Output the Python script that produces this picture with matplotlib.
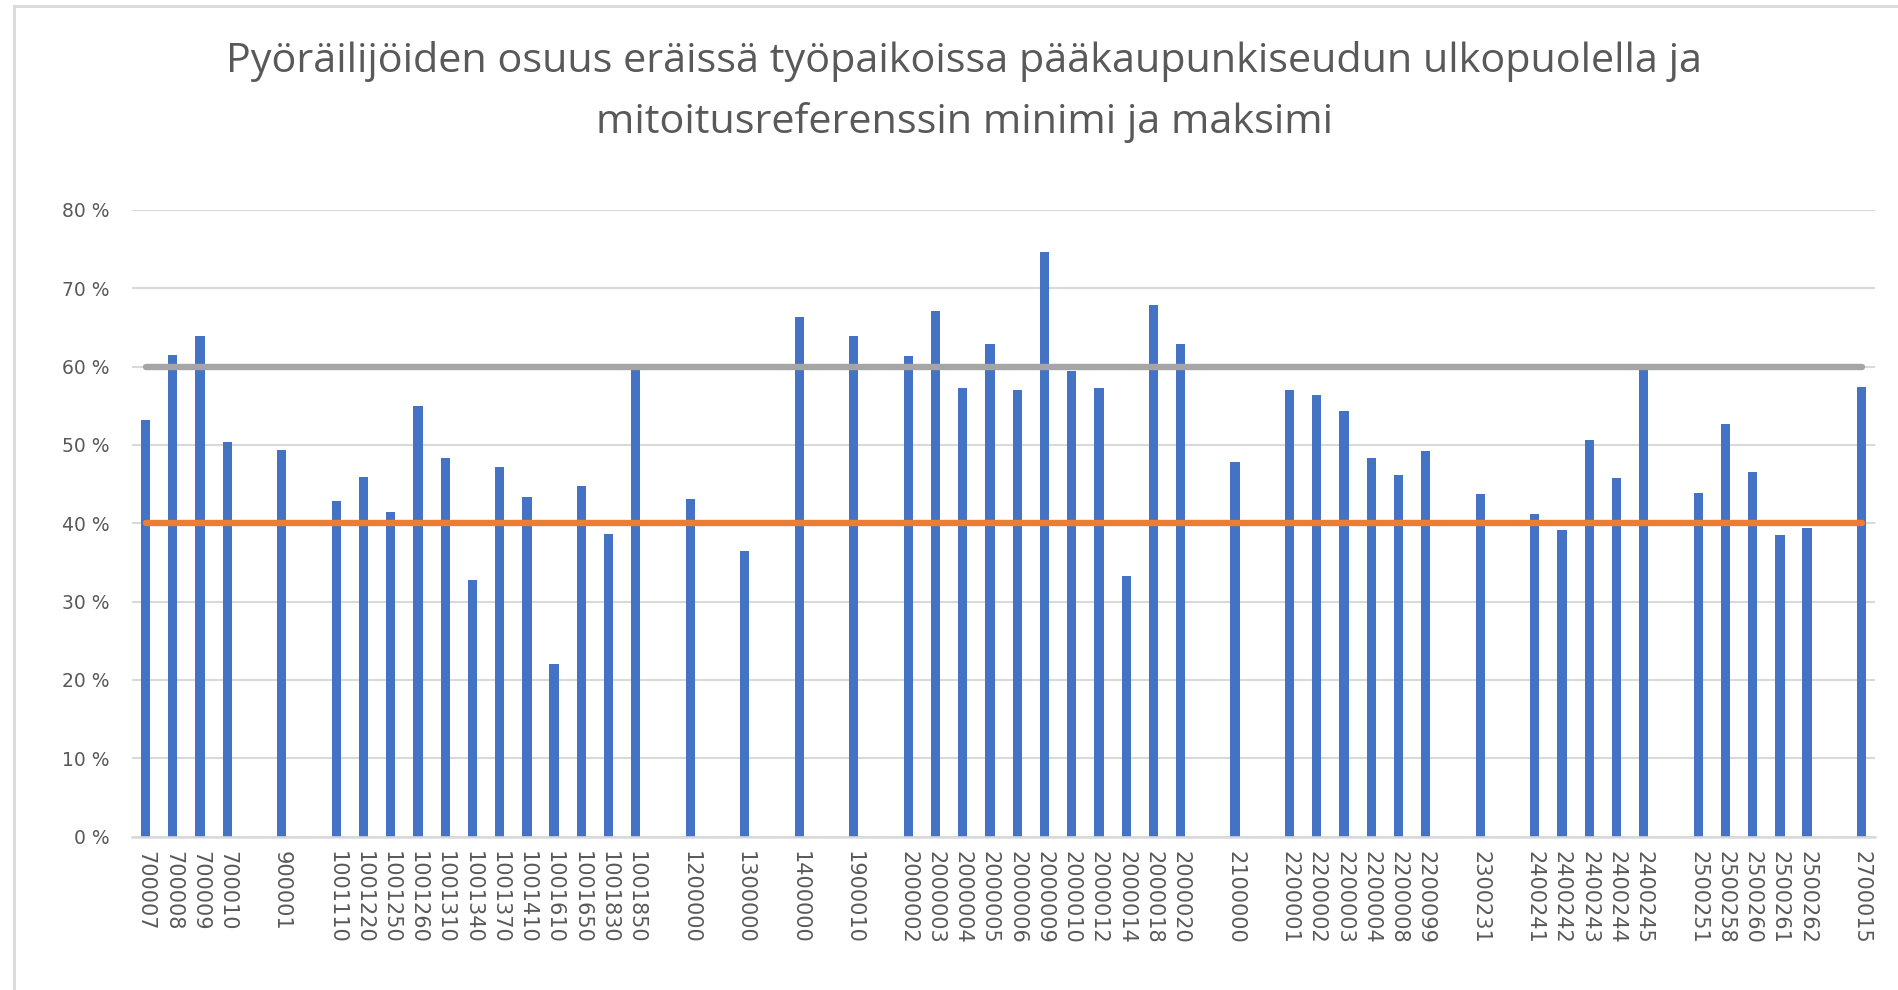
import matplotlib
matplotlib.use("Agg")
import matplotlib.pyplot as plt
from matplotlib.lines import Line2D

# categories (empty strings are the blank slots on the axis)
labels = ["700007", "700008", "700009", "700010", "", "900001", "",
          "1001110", "1001220", "1001250", "1001260", "1001310", "1001340",
          "1001370", "1001410", "1001610", "1001650", "1001830", "1001850", "",
          "1200000", "", "1300000", "", "1400000", "", "1900010", "",
          "2000002", "2000003", "2000004", "2000005", "2000006", "2000009",
          "2000010", "2000012", "2000014", "2000018", "2000020", "",
          "2100000", "",
          "2200001", "2200002", "2200003", "2200004", "2200008", "2200099", "",
          "2300231", "",
          "2400241", "2400242", "2400243", "2400244", "2400245", "",
          "2500251", "2500258", "2500260", "2500261", "2500262", "",
          "2700015"]

# share of cyclists (None = no bar)
share = [0.532, 0.615, 0.639, 0.504, None, 0.494, None,
         0.429, 0.459, 0.414, 0.550, 0.483, 0.328,
         0.472, 0.434, 0.221, 0.447, 0.386, 0.599, None,
         0.431, None, 0.365, None, 0.664, None, 0.639, None,
         0.613, 0.671, 0.573, 0.629, 0.570, 0.746,
         0.594, 0.573, 0.333, 0.679, 0.629, None,
         0.478, None,
         0.570, 0.564, 0.543, 0.483, 0.462, 0.492, None,
         0.438, None,
         0.412, 0.392, 0.506, 0.458, 0.596, None,
         0.439, 0.527, 0.465, 0.385, 0.394, None,
         0.574]

ref_max = 0.60
ref_min = 0.40

yticks = [0, 0.1, 0.2, 0.3, 0.4, 0.5, 0.6, 0.7, 0.8]

title = ("Pyöräilijöiden osuus eräissä työpaikoissa pääkaupunkiseudun ulkopuolella ja\n"
         "mitoitusreferenssin minimi ja maksimi")

txt = "#595959"
grid_c = "#d9d9d9"

fig = plt.figure(figsize=(18.98, 9.90), dpi=100)
ax = fig.add_axes([0.0695, 0.1549, 0.9185, 0.633])

x = list(range(len(labels)))
bx = [i for i, v in zip(x, share) if v is not None]
bv = [v for v in share if v is not None]
ax.bar(bx, bv, width=0.34, color="#4472C4", zorder=2)

ax.plot([x[0], x[-1]], [ref_max, ref_max], color="#A5A5A5", lw=4.6,
        solid_capstyle="round", zorder=3)
ax.plot([x[0], x[-1]], [ref_min, ref_min], color="#ED7D31", lw=4.6,
        solid_capstyle="round", zorder=3)

ax.set_xlim(-0.5, len(labels) - 0.5)
ax.set_ylim(0, 0.8)
ax.set_yticks(yticks)
ax.set_yticklabels([f"{int(round(v * 100))} %" for v in yticks])
ax.set_xticks(x)
ax.set_xticklabels(labels, rotation=-90, va="top", ha="center")

ax.yaxis.grid(True, color=grid_c, lw=1.5, zorder=0)
ax.set_axisbelow(True)
for s in ["top", "right", "left"]:
    ax.spines[s].set_visible(False)
ax.spines["bottom"].set_color(grid_c)
ax.spines["bottom"].set_linewidth(1.8)
ax.tick_params(axis="both", length=0, colors=txt)
ax.tick_params(axis="y", pad=16, labelsize=13.5)
ax.tick_params(axis="x", pad=10, labelsize=15)

fig.text(0.508, 0.907, title, ha="center", va="center", color=txt,
         fontsize=29.8, family="Open Sans", linespacing=1.65)

# chart border
fig.add_artist(Line2D([13.5 / 1898, 1.0], [1 - 6 / 990, 1 - 6 / 990],
                      transform=fig.transFigure, color=grid_c, lw=2))
fig.add_artist(Line2D([13.5 / 1898, 13.5 / 1898], [0, 1 - 6 / 990],
                      transform=fig.transFigure, color=grid_c, lw=2))

fig.savefig("out.png", dpi=100, facecolor="white")
